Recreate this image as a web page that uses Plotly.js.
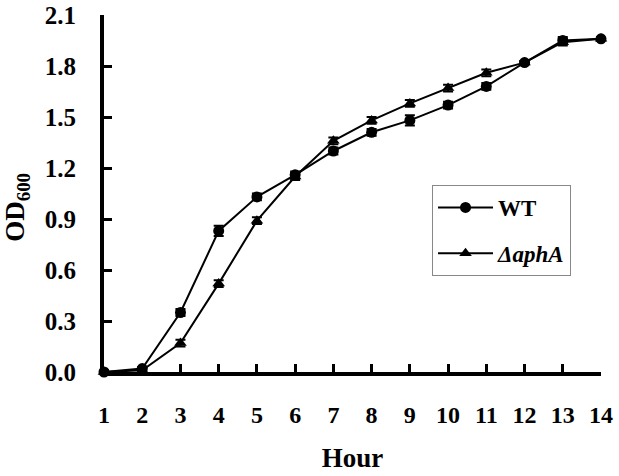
<!DOCTYPE html>
<html>
<head>
<meta charset="utf-8">
<script src="https://cdn.plot.ly/plotly-3.0.1.min.js"></script>
<style>html,body{margin:0;padding:0;background:#fff;}#chart{width:619px;height:476px;}</style>
</head>
<body>
<div id="chart"></div>
<script>
var hours = [1,2,3,4,5,6,7,8,9,10,11,12,13,14];
var wtOD = [0.00,0.02,0.35,0.83,1.03,1.16,1.30,1.41,1.48,1.57,1.68,1.82,1.95,1.96];
var wtErr = [0.01,0.01,0.02,0.03,0.02,0.02,0.02,0.02,0.03,0.02,0.02,0.01,0.02,0.01];
var aphOD = [0.00,0.01,0.17,0.52,0.89,1.15,1.36,1.48,1.58,1.67,1.76,1.82,1.94,1.96];
var aphErr = [0.01,0.01,0.02,0.02,0.02,0.02,0.02,0.02,0.02,0.02,0.02,0.01,0.02,0.01];
var seriesNames = ['WT', '<i>ΔaphA</i>'];
var yTicks = [0,0.3,0.6,0.9,1.2,1.5,1.8,2.1];

var fam = '"Liberation Serif", "Times New Roman", serif';

var traces = [
  {x: hours, y: wtOD, name: seriesNames[0], type: 'scatter', mode: 'lines+markers',
   legendgroup: 'a', cliponaxis: false,
   line: {color: '#000', width: 2},
   marker: {symbol: 'circle', size: 11, color: '#000'},
   error_y: {type: 'data', array: wtErr, visible: true, color: '#000', thickness: 2, width: 5}},
  {x: hours, y: aphOD, name: seriesNames[1], type: 'scatter', mode: 'lines+markers',
   legendgroup: 'b', cliponaxis: false,
   line: {color: '#000', width: 2},
   marker: {symbol: 'triangle-up', size: 11, color: '#000'},
   error_y: {type: 'data', array: aphErr, visible: true, color: '#000', thickness: 2, width: 5}}
];

var layout = {
  width: 619, height: 476,
  margin: {l: 104, r: 18, t: 15, b: 104},
  paper_bgcolor: '#fff', plot_bgcolor: '#fff',
  font: {family: fam, color: '#000'},
  showlegend: true,
  legend: {
    x: 0.66, y: 0.524, xanchor: 'left', yanchor: 'top',
    bordercolor: '#888', borderwidth: 1, bgcolor: '#fff',
    font: {family: fam, size: 23, color: '#000', weight: 'bold'},
    traceorder: 'grouped', tracegroupgap: 13, itemwidth: 55
  },
  xaxis: {
    range: [1, 14], tickvals: hours, ticktext: hours.map(String),
    showgrid: false, zeroline: false,
    showline: true, linecolor: '#000', linewidth: 4,
    ticks: 'inside', ticklen: 8, tickwidth: 3, tickcolor: '#000',
    ticklabelstandoff: 18,
    tickfont: {family: fam, size: 24, color: '#000', weight: 'bold'},
    title: {text: 'Hour', standoff: 22, font: {family: fam, size: 27, color: '#000', weight: 'bold'}}
  },
  yaxis: {
    range: [0, 2.1], tickvals: yTicks, tickformat: '.1f',
    showgrid: false, zeroline: false,
    showline: true, linecolor: '#000', linewidth: 4,
    ticks: 'inside', ticklen: 8, tickwidth: 3, tickcolor: '#000',
    ticklabelstandoff: 19,
    tickfont: {family: fam, size: 25, color: '#000', weight: 'bold'}
  },
  annotations: [{
    text: '<b>OD<sub>600</sub></b>', xref: 'paper', yref: 'paper',
    x: -0.175, y: 0.46, xanchor: 'center', yanchor: 'middle',
    textangle: -90, showarrow: false,
    font: {family: fam, size: 27, color: '#000'}
  }]
};

Plotly.newPlot('chart', traces, layout, {displayModeBar: false, staticPlot: true});
</script>
</body>
</html>
